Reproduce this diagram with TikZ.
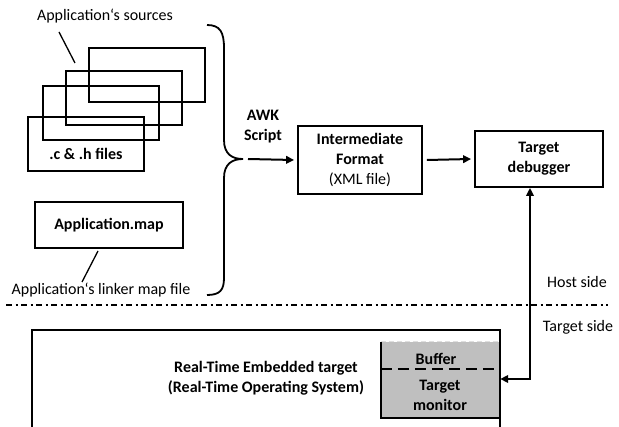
\documentclass[tikz,border=0pt]{standalone}
\usepackage{fontspec}
\setmainfont{Carlito}
\usetikzlibrary{arrows.meta,calc}
\begin{document}
\begin{tikzpicture}[x=1pt,y=-1pt,
  every node/.style={font=\fontsize{16}{20}\selectfont, inner sep=0pt, align=center},
  filebox/.style={draw, line width=1.8pt, minimum width=116pt, minimum height=54pt},
  box/.style={draw, line width=1.8pt},
  lbl/.style={font=\fontsize{16}{20}\selectfont\bfseries},
  tipstyle/.style={},
  arr/.style={line width=2pt, -{Triangle[length=8pt,width=7.5pt]}},
  thin/.style={line width=1.3pt}]
\useasboundingbox (0,0) rectangle (619,427);

% stacked source files
\node[filebox] (f4) at (147,75) {};
\node[filebox] (f3) at (124,98) {};
\node[filebox] (f2) at (101,113) {};
\node[filebox] (f1) at (86,144) {};
\node[lbl] (ftxt) at (86,154) {.c \& .h files};

\node (srclbl) at (105,16) {Application‘s sources};
\coordinate (s1) at (59,32);
\coordinate (s2) at (75,63);
\draw[thin] (s1) -- (s2);

% map file
\node[box, minimum width=148pt, minimum height=46pt, lbl] (map) at (109,225) {Application.map};
\node (maplbl) at (101,290) {Application‘s linker map file};
\coordinate (m1) at (98,251);
\coordinate (m2) at (82,282);
\draw[thin] (m1) -- (m2);

% brace
\coordinate (bt) at (207,25);
\coordinate (bb) at (207,295);
\coordinate (tip) at (243,159);
\draw[line width=1.8pt] (bt) .. controls (220,25) and (224,32) .. (224,48)
  -- (224,140) .. controls (224,154) and (232,159) .. (tip)
  .. controls (232,159) and (224,164) .. (224,178)
  -- (224,278) .. controls (224,290) and (220,295) .. (bb);

\node[lbl] (awk) at (263,127) {AWK\\Script};

% intermediate format
\node[box, minimum width=124pt, minimum height=68pt] (imf) at (360,160) {\textbf{Intermediate}\\\textbf{Format}\\(XML file)};
\node[box, minimum width=128pt, minimum height=56pt, lbl] (td) at (539,159) {Target\\debugger};

\draw[arr] ($(tip)+(5,0)$) -- ($(imf.west)+(-3,0)$);
\draw[arr] ($(imf.east)+(4,0)$) -- ($(td.west)+(-3,0)$);

% separator
\coordinate (sepL) at (6,305);
\coordinate (sepR) at (608,305);
\draw[line width=1.5pt, dash pattern=on 6pt off 3.5pt on 2pt off 3.5pt] (sepL) -- (sepR);
\node (host) at (577,282) {Host side};
\node (tgt) at (578,327) {Target side};

% target
\coordinate (oTL) at (32,330);
\coordinate (oTR) at (500,330);
\draw[line width=2pt] (32,430) -- (oTL) -- (oTR) -- (500,430);
\node[lbl] (rt) at (266,378) {Real-Time Embedded target\\(Real-Time Operating System)};

\fill[gray!50] (381,342) rectangle (500,418);
\node[minimum width=119pt, minimum height=76pt] (tm) at (440.5,380) {};
\draw[line width=1.8pt] (tm.north west) -- (tm.south west) -- (tm.south east) -- (tm.north east);
\draw[line width=1.3pt, white!75!gray, dash pattern=on 5pt off 3pt] (tm.north west) -- (tm.north east);
\draw[line width=1.6pt, dash pattern=on 11pt off 6pt] (tm.west |- 0,369) -- (tm.east |- 0,369);
\node[lbl] (buf) at (436,359) {Buffer};
\node[lbl] (tmt) at (440,395) {Target\\monitor};

\coordinate (bend) at (530,379);
\draw[line width=2pt, {Triangle[length=8pt,width=7.5pt]}-{Triangle[length=8pt,width=7.5pt]}] (bend |- td.south) -- (bend) -- (tm.east |- bend);
\end{tikzpicture}
\end{document}
